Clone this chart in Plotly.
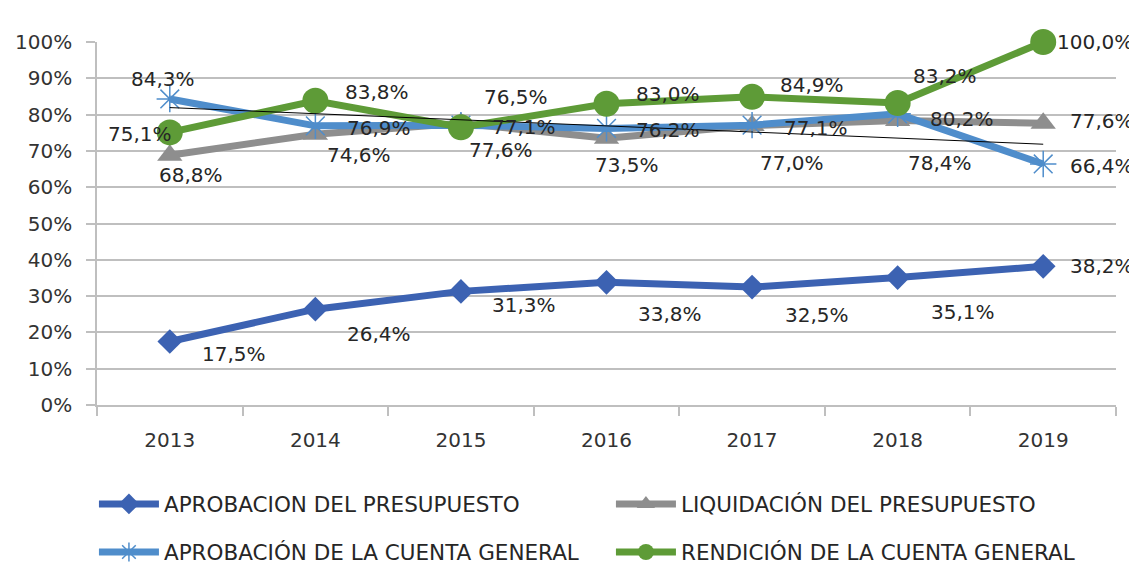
import numpy as np
import plotly.graph_objects as go

years = ["2013", "2014", "2015", "2016", "2017", "2018", "2019"]
aprob_presupuesto = [17.5, 26.4, 31.3, 33.8, 32.5, 35.1, 38.2]
liquidacion = [68.8, 74.6, 77.6, 73.5, 77.0, 78.4, 77.6]
aprob_cuenta = [84.3, 76.9, 77.1, 76.2, 77.1, 80.2, 66.4]
rendicion = [75.1, 83.8, 76.5, 83.0, 84.9, 83.2, 100.0]
y_ticks = list(range(0, 101, 10))
y_tick_text = [f"{v}%" for v in y_ticks]

names = [
    "APROBACION DEL PRESUPUESTO",
    "LIQUIDACIÓN DEL PRESUPUESTO",
    "APROBACIÓN DE LA CUENTA GENERAL",
    "RENDICIÓN DE LA CUENTA GENERAL",
]

# styles
C_DB = "#3C62B2"
C_GR = "#8E8E8E"
C_LB = "#4F8DCB"
C_GN = "#5E9B37"
FONT = "DejaVu Sans"
TXT = "#262626"

# label offsets (px): dx right, dy down
off_db = [(64, 13), (64, 25), (63, 14), (63, 32), (65, 28), (65, 34), (59, 0)]
off_gr = [(21, 20), (44, 21), (40, 27), (20, 27), (40, 38), (42, 43), (59, -2)]
off_lb = [(-7, -20), (64, 2), (63, 2), (61, 2), (64, 3), (64, 5), (59, 2)]
off_gn = [(-30, 2), (62, -9), (55, -30), (61, -10), (60, -12), (47, -27), (52, 0)]

fig = go.Figure()

fig.add_trace(go.Scatter(
    x=years, y=aprob_presupuesto, name=names[0], mode="lines+markers",
    line=dict(color=C_DB, width=7), legend="legend",
    marker=dict(symbol="diamond", size=19, color=C_DB), cliponaxis=False))
fig.add_trace(go.Scatter(
    x=years, y=liquidacion, name=names[1], mode="lines+markers",
    line=dict(color=C_GR, width=7), legend="legend",
    marker=dict(symbol="triangle-up", size=22, color=C_GR), cliponaxis=False))
fig.add_trace(go.Scatter(
    x=years, y=aprob_cuenta, name=names[2], mode="lines+markers",
    line=dict(color=C_LB, width=7), legend="legend2",
    marker=dict(symbol="asterisk-open", size=22, color=C_LB,
                line=dict(color=C_LB, width=1.5)), cliponaxis=False))
fig.add_trace(go.Scatter(
    x=years, y=rendicion, name=names[3], mode="lines+markers",
    line=dict(color=C_GN, width=7), legend="legend2",
    marker=dict(symbol="circle", size=26, color=C_GN), cliponaxis=False))

# linear trend of the "cuenta general" approval series
xi = np.arange(len(years))
slope, intercept = np.polyfit(xi, aprob_cuenta, 1)
trend = [float(intercept + slope * i) for i in xi]
fig.add_trace(go.Scatter(
    x=years, y=trend, mode="lines", showlegend=False, hoverinfo="skip",
    line=dict(color="#000000", width=1), cliponaxis=False))

def fmt(v):
    return f"{v:.1f}".replace(".", ",") + "%"

annotations = []
for vals, offs in [(aprob_presupuesto, off_db), (liquidacion, off_gr),
                   (aprob_cuenta, off_lb), (rendicion, off_gn)]:
    for idx, (v, (dx, dy)) in enumerate(zip(vals, offs)):
        annotations.append(dict(
            x=idx, y=v, xref="x", yref="y", text=fmt(v), showarrow=False,
            xanchor="center", yanchor="middle", xshift=dx, yshift=-dy,
            font=dict(family=FONT, size=20, color=TXT)))

LEG_FONT = dict(family=FONT, size=21.5, color=TXT)

fig.update_layout(
    width=1129, height=576,
    margin=dict(l=89, r=21, t=34, b=179),
    paper_bgcolor="white", plot_bgcolor="white",
    font=dict(family=FONT, size=20, color=TXT),
    annotations=annotations,
    showlegend=True,
    legend=dict(orientation="h", x=-0.003, xanchor="left", y=-0.2725, yanchor="middle",
                entrywidth=442, itemwidth=60, font=LEG_FONT,
                bgcolor="rgba(0,0,0,0)"),
    legend2=dict(orientation="h", x=-0.003, xanchor="left", y=-0.405, yanchor="middle",
                 entrywidth=442, itemwidth=60, font=LEG_FONT,
                 bgcolor="rgba(0,0,0,0)"),
    xaxis=dict(type="category", categoryorder="array", categoryarray=years,
               range=[-0.5, 6.5], showgrid=False, showline=True, linecolor="#BFBFBF",
               linewidth=1.5, ticks="outside", tickson="boundaries", ticklen=9,
               tickcolor="#BFBFBF", tickwidth=1.5, tickangle=0, automargin=False,
               ticklabelstandoff=16,
               tickfont=dict(family=FONT, size=20, color="#333333")),
    yaxis=dict(range=[0, 100], tickmode="array", tickvals=y_ticks,
               ticktext=y_tick_text, showgrid=True,
               gridcolor="#BFBFBF", gridwidth=1.5, showline=True, linecolor="#BFBFBF",
               linewidth=1.5, ticks="outside", ticklen=9, tickcolor="#BFBFBF",
               tickwidth=1.5, zeroline=False, automargin=False, ticklabelstandoff=10,
               tickfont=dict(family=FONT, size=20, color="#333333")),
    shapes=[dict(type="line", xref="paper", yref="paper",
                 x0=-90 / 1019, x1=-90 / 1019, y0=-179 / 363, y1=405 / 363,
                 line=dict(color="#BFBFBF", width=1.5))],
)

fig.write_html("out.html")
